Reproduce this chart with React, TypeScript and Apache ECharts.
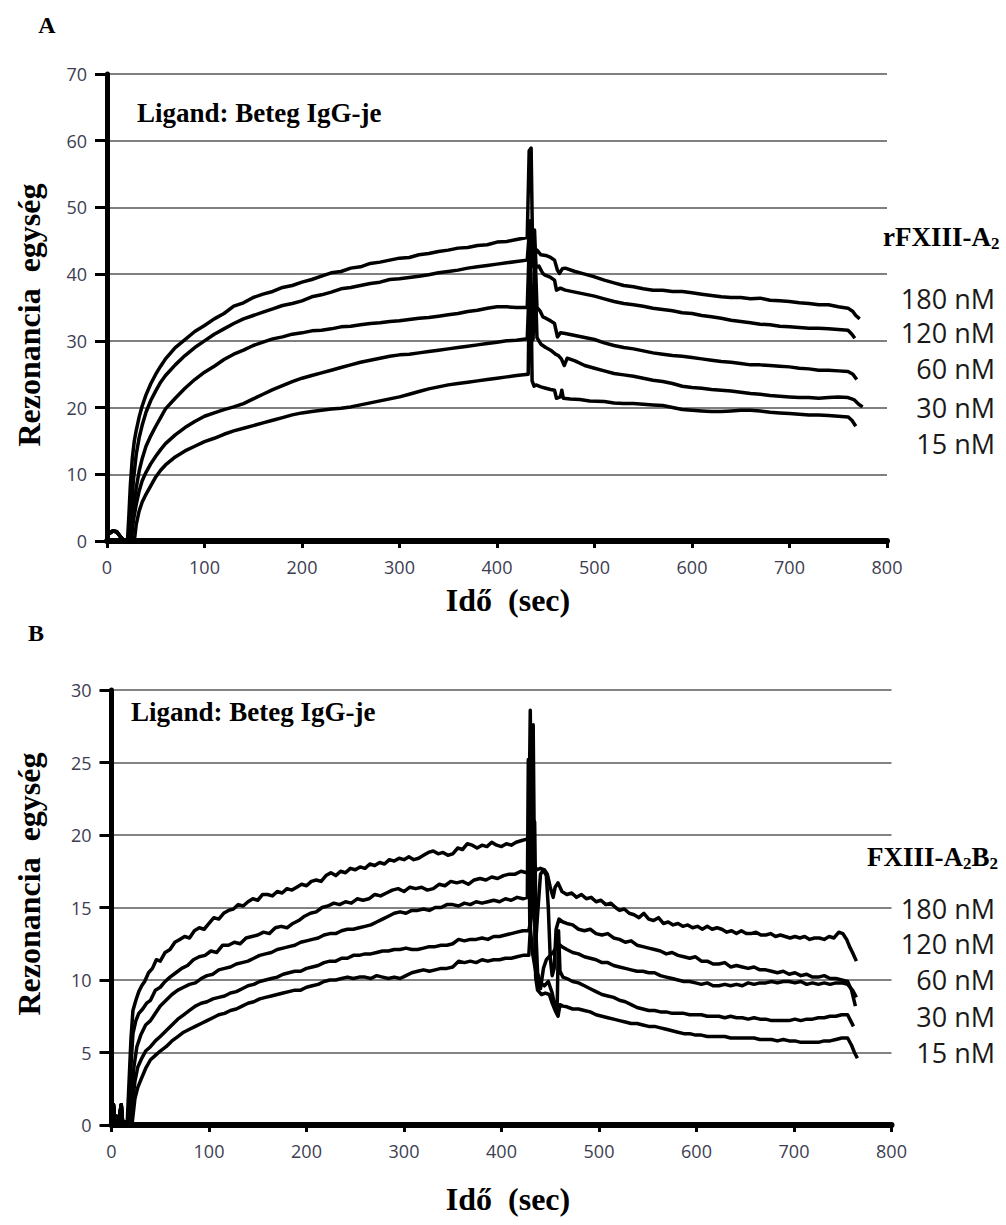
import React, { useEffect, useRef } from "react";
import * as echarts from "echarts";

// ---------- Panel A (rFXIII-A2), time (s) / response (RU) ----------
const xTicks = [0, 100, 200, 300, 400, 500, 600, 700, 800];
const concLabels = ["180 nM", "120 nM", "60 nM", "30 nM", "15 nM"];

const a180: [number, number][] = [[0,1.8],[3,1.2],[6,1.5],[10,1.4],[14,0.6],[17,0.1],[21,0],[22.5,4],[24,8.5],[26,12.5],[28,15],[30,16.6],[33,18.6],[36,20.2],[40,21.9],[45,23.6],[50,25.0],[55,26.2],[60,27.3],[70,29.0],[80,30.2],[90,31.4],[100,32.3],[110,33.3],[120,34.1],[130,35.2],[140,35.7],[150,36.5],[160,37.0],[170,37.4],[180,38.0],[190,38.3],[200,38.8],[210,39.2],[220,39.7],[230,40.2],[240,40.4],[250,40.9],[260,41.1],[270,41.6],[280,41.8],[290,42.1],[300,42.4],[310,42.5],[320,42.9],[330,43.1],[340,43.4],[350,43.6],[360,43.9],[370,44.0],[380,44.3],[390,44.4],[400,44.8],[410,44.9],[420,45.2],[431,45.5],[433,58.5],[435,58.9],[436.5,44],[438,42.6],[441,43.6],[445,42.9],[450,42.8],[455,42.5],[459,42.1],[462,40.6],[464,40.1],[467,40.8],[470,40.9],[480,40.4],[490,40.0],[500,39.6],[510,39.1],[520,38.7],[530,38.3],[540,38.1],[550,37.8],[560,37.6],[570,37.6],[580,37.4],[590,37.4],[600,37.2],[610,37.0],[620,36.8],[630,36.6],[640,36.5],[650,36.5],[660,36.3],[670,36.4],[680,36.1],[690,36.0],[700,35.9],[710,35.7],[720,35.6],[730,35.4],[740,35.4],[750,35.1],[760,34.9],[765,34.4],[768,33.8],[772,33.3]];
const a120: [number, number][] = [[0,1.8],[3,1.2],[6,1.5],[10,1.4],[14,0.6],[17,0.1],[23,0],[25,4.5],[27,9],[30,13],[33,15.5],[36,17.3],[40,19.3],[45,21.1],[50,22.5],[55,23.8],[60,24.8],[70,26.4],[80,27.8],[90,29.0],[100,30.0],[110,31.0],[120,31.8],[130,32.6],[140,33.3],[150,33.8],[160,34.3],[170,34.8],[180,35.3],[190,35.6],[200,36.0],[210,36.6],[220,36.9],[230,37.3],[240,37.8],[250,38.0],[260,38.3],[270,38.6],[280,38.8],[290,39.2],[300,39.3],[310,39.5],[320,39.7],[330,39.9],[340,40.2],[350,40.4],[360,40.6],[370,40.9],[380,41.1],[390,41.3],[400,41.5],[410,41.7],[420,41.9],[431,42.1],[433,46],[435,41],[437,41.5],[438.5,46.6],[440,41],[443,41.2],[447,40.1],[450,39.8],[455,39.5],[459,39.1],[461,37.6],[465,37.9],[470,37.6],[480,37.3],[490,37.0],[500,36.7],[510,36.3],[520,35.9],[530,35.6],[540,35.4],[550,35.2],[560,34.9],[570,34.7],[580,34.5],[590,34.2],[600,34.1],[610,33.8],[620,33.6],[630,33.4],[640,33.1],[650,32.9],[660,32.7],[670,32.5],[680,32.4],[690,32.2],[700,32.1],[710,32.0],[720,31.9],[730,31.9],[740,31.8],[750,31.7],[760,31.6],[764,31.0],[767,30.4]];
const a60: [number, number][] = [[0,1.8],[3,1.2],[6,1.5],[10,1.4],[14,0.6],[17,0.1],[24,0],[26,3],[28,6],[30,8],[33,10.5],[36,12.3],[40,14.2],[45,15.8],[50,17.2],[55,18.5],[60,19.8],[70,21.4],[80,22.9],[90,24.2],[100,25.3],[110,26.2],[120,27.2],[130,28.0],[140,28.6],[150,29.3],[160,29.8],[170,30.3],[180,30.6],[190,31.0],[200,31.2],[210,31.5],[220,31.6],[230,31.8],[240,32.1],[250,32.2],[260,32.4],[270,32.6],[280,32.7],[290,32.9],[300,33.0],[310,33.2],[320,33.4],[330,33.5],[340,33.7],[350,33.9],[360,34.1],[370,34.4],[380,34.6],[390,34.9],[400,35.1],[410,35.1],[420,35.0],[431,35.0],[433,44],[435,34.5],[437,34],[439,43.5],[441,35],[444,34.5],[447,33.6],[450,33.4],[455,33.0],[459,32.6],[462,30.6],[465,31.2],[470,31.1],[480,30.8],[490,30.5],[500,30.2],[510,29.7],[520,29.3],[530,29.0],[540,28.8],[550,28.5],[560,28.2],[570,28.0],[580,27.8],[590,27.7],[600,27.5],[610,27.3],[620,27.1],[630,26.9],[640,26.8],[650,26.6],[660,26.4],[670,26.4],[680,26.3],[690,26.2],[700,26.1],[710,25.9],[720,25.8],[730,25.6],[740,25.6],[750,25.5],[760,25.4],[765,25.0],[769,24.2]];
const a30: [number, number][] = [[0,1.8],[3,1.2],[6,1.5],[10,1.4],[14,0.6],[17,0.1],[25,0],[27,3],[30,5.5],[33,7.5],[36,9],[40,10.3],[45,11.6],[50,12.7],[55,13.7],[60,14.6],[70,15.9],[80,17.0],[90,17.9],[100,18.7],[110,19.2],[120,19.7],[130,20.1],[140,20.6],[150,21.3],[160,22.0],[170,22.7],[180,23.3],[190,23.9],[200,24.4],[210,24.8],[220,25.2],[230,25.6],[240,26.0],[250,26.4],[260,26.8],[270,27.1],[280,27.4],[290,27.7],[300,27.9],[310,28.0],[320,28.2],[330,28.4],[340,28.6],[350,28.8],[360,29.0],[370,29.2],[380,29.4],[390,29.6],[400,29.8],[410,30.0],[420,30.1],[431,30.3],[433,38],[435,30],[437,30.2],[439,40],[441,30.5],[445,29.5],[450,29.0],[455,28.6],[460,28.0],[463,27.8],[466,27.3],[469,26.3],[472,27.4],[480,27.0],[490,26.3],[500,25.9],[510,25.5],[520,25.1],[530,24.9],[540,24.7],[550,24.4],[560,24.1],[570,23.9],[580,23.6],[590,23.2],[600,23.0],[610,22.9],[620,22.7],[630,22.6],[640,22.5],[650,22.3],[660,22.1],[670,22.0],[680,21.8],[690,21.7],[700,21.6],[710,21.5],[720,21.5],[730,21.4],[740,21.5],[750,21.6],[760,21.5],[766,21.2],[771,20.5],[775,20.1]];
const a15: [number, number][] = [[0,1.8],[3,1.2],[6,1.5],[10,1.4],[14,0.6],[17,0.1],[28,0],[30,2.5],[33,4.5],[36,5.8],[40,7.0],[45,8.3],[50,9.6],[55,10.6],[60,11.4],[70,12.6],[80,13.5],[90,14.2],[100,14.9],[110,15.4],[120,16.0],[130,16.5],[140,16.9],[150,17.3],[160,17.7],[170,18.1],[180,18.5],[190,18.9],[200,19.2],[210,19.4],[220,19.6],[230,19.8],[240,19.9],[250,20.1],[260,20.4],[270,20.7],[280,21.0],[290,21.3],[300,21.6],[310,22.0],[320,22.4],[330,22.8],[340,23.1],[350,23.4],[360,23.6],[370,23.8],[380,24.0],[390,24.2],[400,24.4],[410,24.6],[420,24.8],[432,25.0],[434,48],[436,24],[438,23.2],[440,23.4],[445,23.1],[450,22.9],[455,22.7],[459,22.6],[461,21.4],[465,21.6],[466.5,22.6],[468,21.4],[475,21.3],[485,21.2],[495,21.0],[510,20.9],[520,20.7],[530,20.6],[540,20.6],[550,20.5],[560,20.4],[570,20.3],[580,20.0],[590,19.7],[600,19.6],[610,19.5],[620,19.4],[630,19.4],[640,19.5],[650,19.6],[660,19.6],[670,19.5],[680,19.3],[690,19.2],[700,19.1],[710,19.0],[720,18.9],[730,18.9],[740,18.8],[750,18.7],[760,18.6],[764,18.1],[768,17.2]];

// ---------- Panel B (FXIII-A2B2) ----------
const b180: [number, number][] = [[0,0.3],[2,1.4],[3.5,0.2],[5,0.6],[7,0.1],[10,1.4],[11.5,0.1],[14,0.2],[16,0],[18,3],[20,6],[22,7.9],[25,8.6],[28,9.2],[31,9.6],[34,9.9],[38,10.5],[42,10.8],[46,11.4],[50,11.3],[55,11.9],[60,12.1],[65,12.6],[70,12.8],[75,13.0],[80,12.9],[85,13.4],[90,13.6],[95,13.5],[100,13.9],[105,14.3],[110,14.2],[115,14.6],[120,14.8],[125,14.9],[130,15.2],[135,15.1],[140,15.4],[145,15.6],[150,15.5],[155,15.9],[160,15.9],[165,15.8],[170,16.1],[175,16.0],[180,16.3],[185,16.2],[190,16.4],[195,16.6],[200,16.5],[205,16.8],[210,16.9],[215,16.8],[220,17.2],[225,17.4],[230,17.2],[235,17.5],[240,17.4],[245,17.7],[250,17.6],[255,17.8],[260,17.7],[265,18.0],[270,17.9],[275,18.1],[280,18.0],[285,18.3],[290,18.2],[295,18.4],[300,18.3],[305,18.5],[310,18.3],[315,18.4],[320,18.6],[325,18.8],[330,18.9],[335,18.7],[340,18.8],[345,18.6],[350,18.7],[355,19.1],[360,19.0],[365,19.4],[370,19.3],[375,19.1],[380,19.3],[385,19.2],[390,19.5],[395,19.3],[400,19.2],[405,19.4],[410,19.3],[415,19.5],[420,19.6],[425,19.7],[428,19.8],[429.5,28.6],[431,19.5],[433,18],[436,17.6],[440,17.7],[444,17.6],[447,17.3],[450,16.4],[453,15.7],[455,16.4],[458,16.7],[462,16.1],[467,15.9],[472,16.0],[477,15.7],[482,15.9],[487,15.6],[492,15.7],[497,15.4],[502,15.5],[507,15.2],[512,15.3],[517,15.0],[521,14.8],[526,14.9],[531,14.6],[536,14.5],[541,14.3],[546,14.6],[551,14.2],[556,14.1],[561,14.3],[566,13.9],[571,14.0],[576,13.8],[581,13.9],[586,13.7],[591,13.8],[596,13.6],[601,13.7],[606,13.5],[611,13.7],[616,13.5],[621,13.6],[626,13.5],[631,13.3],[636,13.4],[641,13.2],[646,13.4],[651,13.2],[656,13.2],[661,13.3],[666,13.1],[671,13.1],[676,13.2],[681,13.0],[686,13.1],[691,13.0],[696,12.9],[701,13.0],[706,12.9],[711,13.0],[716,12.8],[721,12.9],[726,12.9],[731,12.8],[736,13.0],[741,12.9],[746,13.3],[750,13.2],[754,12.8],[757,12.3],[760,11.9],[764,11.3]];
const b120: [number, number][] = [[0,0.3],[2,1.4],[3.5,0.2],[5,0.6],[7,0.1],[10,1.4],[11.5,0.1],[14,0.2],[17,0],[19,3],[22,6.3],[25,7.2],[28,7.7],[32,8.0],[36,8.4],[40,8.6],[45,9.3],[50,9.5],[55,9.9],[60,10.2],[66,10.5],[72,10.8],[78,11.0],[84,11.4],[90,11.6],[96,11.7],[102,12.0],[108,11.9],[114,12.4],[120,12.4],[126,12.6],[132,12.5],[138,12.9],[144,13.0],[150,13.1],[156,13.3],[162,13.2],[168,13.6],[174,13.7],[180,13.6],[186,13.9],[192,14.1],[198,14.4],[204,14.6],[210,14.7],[216,15.0],[222,15.1],[228,15.3],[234,15.2],[240,15.4],[246,15.3],[252,15.6],[258,15.5],[264,15.6],[270,15.9],[276,15.8],[282,16.0],[288,16.2],[294,16.3],[300,16.1],[306,16.4],[312,16.3],[318,16.4],[324,16.2],[330,16.3],[336,16.6],[342,16.5],[348,16.8],[354,16.7],[360,16.8],[366,16.6],[372,16.9],[378,17.0],[384,16.9],[390,17.1],[396,17.0],[402,17.2],[408,17.3],[414,17.3],[420,17.5],[426,17.4],[430,17.6],[432.5,27.6],[434.5,12],[437,14.5],[440,17.3],[443,17.6],[446,17.2],[448,15],[450,11.5],[452,10.3],[454,10.8],[456,13.5],[459,14.2],[463,14.0],[467,13.9],[473,13.8],[479,13.5],[485,13.4],[491,13.5],[497,13.2],[503,13.1],[509,13.2],[515,12.9],[521,12.8],[527,12.6],[533,12.7],[539,12.4],[545,12.3],[551,12.2],[557,12.1],[563,12.0],[569,11.8],[575,11.9],[581,11.7],[587,11.6],[593,11.5],[599,11.6],[605,11.3],[611,11.3],[617,11.1],[623,11.1],[629,11.2],[635,10.9],[641,11.0],[647,10.9],[653,10.8],[659,10.9],[665,10.7],[671,10.7],[677,10.6],[683,10.5],[689,10.6],[695,10.4],[701,10.5],[707,10.3],[713,10.4],[719,10.2],[725,10.2],[731,10.3],[737,10.1],[743,10.1],[749,10.0],[755,9.9],[759,9.3],[763,8.2]];
const b60: [number, number][] = [[0,0.3],[2,1.4],[3.5,0.2],[5,0.6],[7,0.1],[10,1.4],[11.5,0.1],[14,0.2],[19,0],[21,2.5],[23,4],[26,5.4],[30,6.2],[35,6.9],[40,7.2],[45,7.7],[50,8.2],[56,8.6],[62,9.0],[68,9.3],[74,9.5],[80,9.7],[86,9.8],[92,10.1],[98,10.3],[104,10.4],[110,10.7],[116,10.8],[122,10.9],[128,11.1],[134,11.2],[140,11.3],[146,11.5],[152,11.7],[158,11.8],[164,11.9],[170,12.1],[176,12.2],[182,12.3],[188,12.4],[194,12.6],[200,12.7],[206,12.8],[212,12.9],[218,13.1],[224,13.2],[230,13.2],[236,13.4],[242,13.5],[248,13.5],[254,13.6],[260,13.7],[266,13.8],[272,14.0],[278,14.2],[284,14.4],[290,14.6],[296,14.7],[302,14.6],[308,14.8],[314,14.8],[320,14.9],[326,14.8],[332,15.0],[338,15.0],[344,15.2],[350,15.2],[356,15.1],[362,15.3],[368,15.2],[374,15.4],[380,15.3],[386,15.4],[392,15.5],[398,15.4],[404,15.6],[410,15.5],[416,15.7],[422,15.6],[426.5,15.7],[427.5,25.2],[429,14.0],[432,11.8],[436,10.2],[440,9.4],[443,10.8],[446,11.4],[450,11.7],[454,12.0],[458,12.5],[462,12.3],[467,12.1],[473,11.9],[479,11.8],[485,11.6],[491,11.5],[497,11.4],[503,11.2],[509,11.2],[515,11.0],[521,10.9],[527,10.8],[533,10.7],[539,10.6],[545,10.6],[551,10.5],[557,10.5],[563,10.3],[569,10.2],[575,10.1],[581,10.0],[587,9.9],[593,9.9],[599,9.8],[605,9.7],[611,9.8],[617,9.6],[623,9.6],[629,9.7],[635,9.6],[641,9.7],[647,9.6],[653,9.8],[659,9.7],[665,9.8],[671,9.8],[677,9.9],[683,9.8],[689,9.9],[695,9.9],[701,9.8],[707,9.9],[713,9.7],[719,9.8],[725,9.7],[731,9.8],[737,9.7],[743,9.8],[749,9.8],[755,9.7],[760,9.3],[764,8.8]];
const b30: [number, number][] = [[0,0.3],[2,1.4],[3.5,0.2],[5,0.6],[7,0.1],[10,1.4],[11.5,0.1],[14,0.2],[20,0],[22,1.8],[24,3],[27,4],[31,4.6],[35,5.1],[40,5.4],[45,5.8],[50,6.1],[56,6.5],[62,6.9],[68,7.3],[74,7.6],[80,7.9],[86,8.2],[92,8.4],[98,8.5],[104,8.7],[110,8.8],[116,8.9],[122,9.1],[128,9.2],[134,9.4],[140,9.6],[146,9.7],[152,9.9],[158,10.0],[164,10.1],[170,10.2],[176,10.4],[182,10.5],[188,10.6],[194,10.6],[200,10.8],[206,10.9],[212,11.0],[218,11.2],[224,11.3],[230,11.3],[236,11.5],[242,11.5],[248,11.7],[254,11.7],[260,11.8],[266,11.8],[272,11.9],[278,12.0],[284,12.0],[290,12.1],[296,12.1],[302,12.2],[308,12.1],[314,12.1],[320,12.2],[326,12.3],[332,12.3],[338,12.4],[344,12.4],[350,12.5],[356,12.8],[362,12.7],[368,12.8],[374,12.8],[380,12.9],[386,12.8],[392,13.0],[398,13.0],[404,13.1],[410,13.2],[416,13.3],[422,13.4],[428,13.4],[431,14.5],[434,20.9],[435.5,13],[437,10.5],[440,9.8],[444,9.6],[448,9.9],[452,9.1],[455,8.1],[457,7.7],[458.5,13.4],[460,10.6],[463,10.2],[467,10.1],[473,9.9],[479,9.8],[485,9.6],[491,9.4],[497,9.2],[503,9.0],[509,8.9],[515,8.8],[521,8.6],[527,8.5],[533,8.3],[539,8.1],[545,8.0],[551,7.9],[557,7.9],[563,7.8],[569,7.8],[575,7.7],[581,7.7],[587,7.7],[593,7.6],[599,7.6],[605,7.6],[611,7.5],[617,7.5],[623,7.5],[629,7.4],[635,7.5],[641,7.4],[647,7.4],[653,7.3],[659,7.4],[665,7.3],[671,7.3],[677,7.2],[683,7.2],[689,7.2],[695,7.2],[701,7.3],[707,7.2],[713,7.3],[719,7.3],[725,7.4],[731,7.4],[737,7.5],[743,7.5],[749,7.6],[755,7.6],[758,7.2],[761,6.8]];
const b15: [number, number][] = [[0,0.3],[2,1.4],[3.5,0.2],[5,0.6],[7,0.1],[10,1.4],[11.5,0.1],[14,0.2],[21,0],[24,1.8],[27,2.6],[30,3.1],[35,3.9],[40,4.5],[45,4.8],[50,5.1],[56,5.4],[62,5.8],[68,6.1],[74,6.4],[80,6.6],[86,6.8],[92,7.0],[98,7.2],[104,7.4],[110,7.6],[116,7.7],[122,7.9],[128,8.0],[134,8.2],[140,8.4],[146,8.5],[152,8.7],[158,8.8],[164,8.9],[170,9.0],[176,9.1],[182,9.2],[188,9.3],[194,9.3],[200,9.5],[206,9.6],[212,9.7],[218,9.9],[224,10.0],[230,10.0],[236,10.1],[242,10.2],[248,10.1],[254,10.2],[260,10.2],[266,10.1],[272,10.3],[278,10.2],[284,10.1],[290,10.2],[296,10.1],[302,10.3],[308,10.5],[314,10.6],[320,10.7],[326,10.6],[332,10.7],[338,10.8],[344,10.8],[350,10.9],[356,11.3],[362,11.2],[368,11.3],[374,11.2],[380,11.4],[386,11.3],[392,11.4],[398,11.4],[404,11.5],[410,11.5],[416,11.6],[422,11.7],[428,11.7],[430,14],[433,21],[435,10.2],[437,9.3],[441,9.0],[445,9.1],[449,9.0],[452,8.4],[455,7.9],[458,7.5],[460,8.3],[463,8.2],[467,8.15],[473,8.0],[479,8.0],[485,7.9],[491,7.8],[497,7.6],[503,7.5],[509,7.4],[515,7.3],[521,7.2],[527,7.1],[533,7.0],[539,7.0],[545,6.9],[551,6.8],[557,6.8],[563,6.7],[569,6.6],[575,6.5],[581,6.4],[587,6.3],[593,6.3],[599,6.2],[605,6.2],[611,6.1],[617,6.1],[623,6.1],[629,6.1],[635,6.0],[641,6.0],[647,6.0],[653,6.0],[659,6.0],[665,5.9],[671,5.9],[677,5.9],[683,5.8],[689,5.9],[695,5.8],[701,5.8],[707,5.7],[713,5.7],[719,5.7],[725,5.7],[731,5.8],[737,5.8],[743,5.9],[749,6.0],[755,6.0],[759,5.5],[762,5.0],[765,4.6]];

const panelASeries = [a180, a120, a60, a30, a15];
const panelBSeries = [b180, b120, b60, b30, b15];

const SERIF = "'Liberation Serif', 'Times New Roman', serif";
const SANS = "'Open Sans', 'DejaVu Sans', sans-serif";
const TICK_COLOR = "#3d3d52";

function xAxisFor(grid: number) {
  return {
    type: "value",
    gridIndex: grid,
    min: 0,
    max: 800,
    interval: 100,
    axisLine: { show: true, onZero: false, lineStyle: { color: "#000", width: 6, cap: "round" } },
    axisTick: { show: true, length: 7, lineStyle: { color: "#000", width: 3 } },
    axisLabel: {
      color: TICK_COLOR,
      fontSize: 18,
      fontFamily: SANS,
      margin: 17,
      formatter: (v: number) => (xTicks.includes(v) ? String(v) : ""),
    },
    splitLine: { show: false },
  };
}

function yAxisFor(grid: number, max: number, interval: number, gridColor: string, gridWidth: number) {
  return {
    type: "value",
    gridIndex: grid,
    min: 0,
    max,
    interval,
    axisLine: { show: true, onZero: false, lineStyle: { color: "#000", width: 5 } },
    axisTick: { show: true, length: 12, lineStyle: { color: "#000", width: 3 } },
    axisLabel: { color: TICK_COLOR, fontSize: 18, fontFamily: SANS, margin: 20 },
    splitLine: { show: true, lineStyle: { color: gridColor, width: gridWidth } },
  };
}

function seriesFor(data: [number, number][][], grid: number, width: number) {
  return data.map((d, i) => ({
    type: "line",
    name: `${grid === 0 ? "A" : "B"} ${concLabels[i]}`,
    xAxisIndex: grid,
    yAxisIndex: grid,
    data: d,
    showSymbol: false,
    symbol: "none",
    lineStyle: { color: "#000", width, join: "round" },
    z: 3,
  }));
}

function boldSerif(text: string, x: number, y: number, size: number, align = "left", rotation = 0) {
  return {
    type: "text",
    x,
    y,
    rotation,
    style: {
      text,
      fill: "#000",
      font: `bold ${size}px ${SERIF}`,
      textAlign: align,
      textVerticalAlign: "middle",
    },
  };
}

function sansLabel(text: string, x: number, y: number) {
  return {
    type: "text",
    x,
    y,
    style: {
      text,
      fill: "#1a1a1a",
      font: `27px ${SANS}`,
      textAlign: "right",
      textVerticalAlign: "middle",
    },
  };
}

const richStyles = {
  m: { fontSize: 27, fontWeight: "bold", fontFamily: SERIF, fill: "#000", lineHeight: 30, verticalAlign: "middle" },
  s: { fontSize: 17, fontWeight: "bold", fontFamily: SERIF, fill: "#000", lineHeight: 17, verticalAlign: "bottom" },
};

function richLabel(text: string, x: number, y: number) {
  return {
    type: "text",
    x,
    y,
    style: { text, textAlign: "left", textVerticalAlign: "middle", rich: richStyles },
  };
}

const aLabelY = [298, 332, 368, 407, 443];
const bLabelY = [908, 943, 979, 1016, 1052];

export default function App() {
  const ref = useRef<HTMLDivElement>(null);
  useEffect(() => {
    if (!ref.current) return;
    const chart = echarts.init(ref.current, undefined, { renderer: "svg" });
    const graphic: any[] = [
      boldSerif("A", 47, 25, 24, "center"),
      boldSerif("B", 36, 633, 24, "center"),
      boldSerif("Ligand: Beteg IgG-je", 137, 113, 27),
      boldSerif("Ligand: Beteg IgG-je", 131, 712, 27),
      boldSerif("Rezonancia  egység", 29, 315, 32, "center", Math.PI / 2),
      boldSerif("Rezonancia  egység", 29, 884, 32, "center", Math.PI / 2),
      boldSerif("Idő  (sec)", 508, 600, 32, "center"),
      boldSerif("Idő  (sec)", 508, 1199, 32, "center"),
      richLabel("{m|rFXIII-A}{s|2}", 883, 237),
      richLabel("{m|FXIII-A}{s|2}{m|B}{s|2}", 867, 857),
      ...concLabels.map((t, i) => sansLabel(t, 995, aLabelY[i])),
      ...concLabels.map((t, i) => sansLabel(t, 995, bLabelY[i])),
    ];
    chart.setOption({
      animation: false,
      backgroundColor: "#fff",
      grid: [
        { left: 107, top: 74, width: 780, height: 467, containLabel: false },
        { left: 111.5, top: 690, width: 780, height: 435, containLabel: false },
      ],
      xAxis: [xAxisFor(0), xAxisFor(1)],
      yAxis: [yAxisFor(0, 70, 10, "#808080", 2), yAxisFor(1, 30, 5, "#5a5a5a", 1.5)],
      series: [...seriesFor(panelASeries, 0, 3.5), ...seriesFor(panelBSeries, 1, 3.5)],
      graphic,
    });
    return () => chart.dispose();
  }, []);
  return (
    <div
      ref={ref}
      style={{ position: "absolute", left: 0, top: 0, width: 1006, height: 1225, background: "#fff" }}
    />
  );
}
